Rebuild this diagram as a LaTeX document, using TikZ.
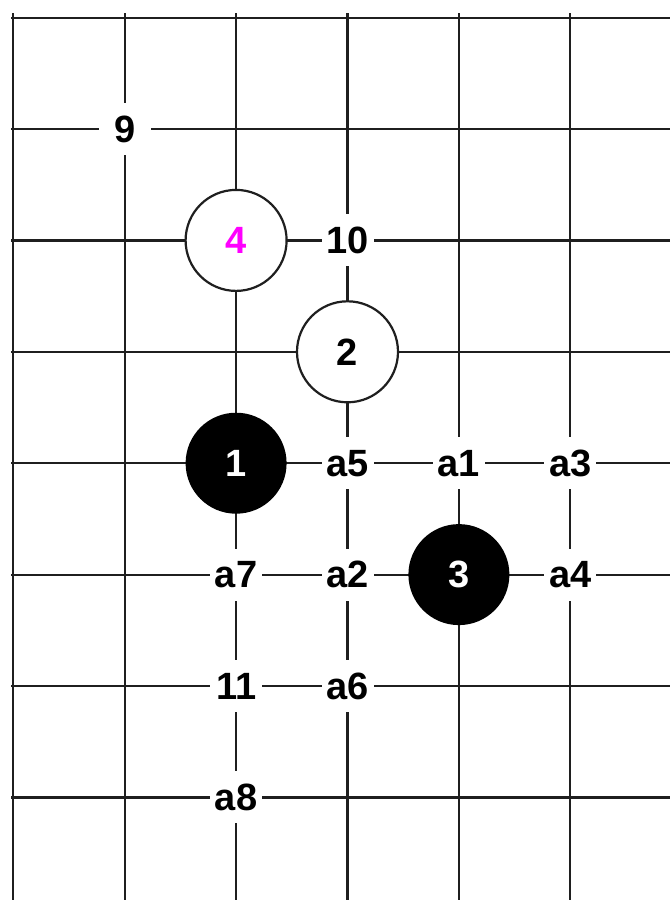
\documentclass[tikz,border=0pt]{standalone}
\usepackage{fontspec}
\setmainfont{Liberation Sans}
\begin{document}
\begin{tikzpicture}[x=1pt,y=-1pt,
  gridline/.style={line width=2.2pt,draw=black!88},
  lbl/.style={fill=white,minimum width=52pt,minimum height=52pt,inner sep=0pt,
    font=\fontsize{38}{44}\selectfont\bfseries},
  wstone/.style={circle,draw=black!88,line width=2.2pt,fill=white,minimum size=101pt,inner sep=0pt,
    font=\fontsize{38}{44}\selectfont\bfseries},
  bstone/.style={circle,fill=black,minimum size=101pt,inner sep=0pt,text=white,
    font=\fontsize{38}{44}\selectfont\bfseries}]
\useasboundingbox[fill=white] (0,0) rectangle (670,900);
\foreach \i in {0,...,5} {
  \draw[gridline] ({13.3+111.4*\i},13) -- ({13.3+111.4*\i},900);
}
\foreach \j in {0,...,7} {
  \draw[gridline] (11,{17.6+111.4*\j}) -- (670,{17.6+111.4*\j});
}
\def\X#1{13.3+111.4*#1}
\def\Y#1{17.6+111.4*#1}
% stones
\node[wstone,text={rgb,255:red,255;green,0;blue,255}] (s4) at ({\X{2}},{\Y{2}}) {4};
\node[wstone] (s2) at ({\X{3}},{\Y{3}}) {2};
\node[bstone] (s1) at ({\X{2}},{\Y{4}}) {1};
\node[bstone] (s3) at ({\X{4}},{\Y{5}}) {3};
% labels
\node[lbl] (m9) at ({\X{1}},{\Y{1}}) {9};
\node[lbl] (m10) at ({\X{3}},{\Y{2}}) {10};
\node[lbl] (a5) at ({\X{3}},{\Y{4}}) {a5};
\node[lbl] (a1) at ({\X{4}},{\Y{4}}) {a1};
\node[lbl] (a3) at ({\X{5}},{\Y{4}}) {a3};
\node[lbl] (a7) at ({\X{2}},{\Y{5}}) {a7};
\node[lbl] (a2) at ({\X{3}},{\Y{5}}) {a2};
\node[lbl] (a4) at ({\X{5}},{\Y{5}}) {a4};
\node[lbl] (m11) at ({\X{2}},{\Y{6}}) {11};
\node[lbl] (a6) at ({\X{3}},{\Y{6}}) {a6};
\node[lbl] (a8) at ({\X{2}},{\Y{7}}) {a8};
\end{tikzpicture}
\end{document}
